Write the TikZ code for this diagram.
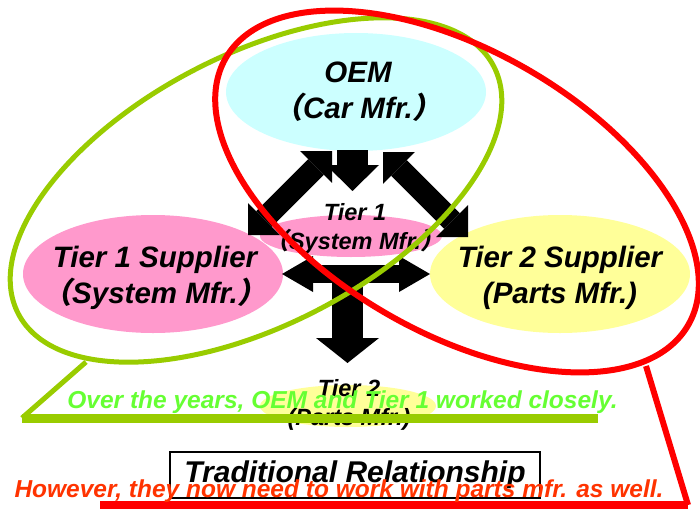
\documentclass[tikz,border=0pt]{standalone}
\usepackage{fontspec}
\setmainfont{Liberation Sans}
\newfontfamily\cjkparen[FakeSlant=0.2]{Noto Sans CJK JP}
\usetikzlibrary{shapes.geometric,arrows.meta}

\definecolor{oemfill}{HTML}{CCFFFF}
\definecolor{tieronefill}{HTML}{FF99CC}
\definecolor{tiertwofill}{HTML}{FFFF99}
\definecolor{leafgreen}{HTML}{99CC00}
\definecolor{brightred}{HTML}{FF0000}
\definecolor{notegreen}{HTML}{66FF33}
\definecolor{notered}{HTML}{FF3300}

% full-width parentheses
\newcommand{\fwlp}{{\cjkparen （}}
\newcommand{\fwrp}{{\cjkparen ）}}

\tikzset{
  party/.style={ellipse, inner sep=0pt, minimum width=260pt, minimum height=118pt},
  minorparty/.style={ellipse, inner sep=0pt, minimum width=#1, minimum height=42pt},
  bigtext/.style={align=center, inner sep=0pt, font=\fontsize{29.5}{35.5}\selectfont\bfseries\itshape},
  smalltext/.style={align=center, inner sep=0pt, font=\fontsize{23.5}{29}\selectfont\bfseries\itshape},
  notetext/.style={inner sep=0pt, font=\fontsize{24.5}{30}\selectfont\bfseries\itshape},
  diagarrow/.style={line width=22pt,
    arrows={Triangle[width=45pt,length=22.5pt,line width=0pt]-Triangle[width=45pt,length=22.5pt,line width=0pt]}},
  downarrow/.style={line width=31pt,
    arrows={-Triangle[width=53pt,length=26pt,line width=0pt]}},
  sidearrow/.style={line width=18pt,
    arrows={Triangle[width=36pt,length=31pt,line width=0pt]-Triangle[width=36pt,length=31pt,line width=0pt]}},
  tierarrow/.style={line width=31.5pt,
    arrows={-Triangle[width=63pt,length=25pt,line width=0pt]}},
  greenline/.style={draw=leafgreen, line width=5pt},
  redline/.style={draw=brightred, line width=6pt},
}

\begin{document}
\begin{tikzpicture}[x=1pt, y=-1pt]
\useasboundingbox (0,0) rectangle (700,508);

% company ellipses
\node[party, fill=oemfill] (oem) at (356,92) {};
\node[party, fill=tieronefill] (tierone) at (153,274) {};
\node[party, fill=tiertwofill] (tiertwo) at (560,274) {};
\node[minorparty=182pt, fill=tieronefill] (sysmfr) at (351,236) {};
\node[minorparty=176pt, fill=tiertwofill] (partsmfr) at (348,406) {};

% arrow end points
\coordinate (dlA) at (248,235);
\coordinate (dlB) at (332,151);
\coordinate (drA) at (383,152);
\coordinate (drB) at (468,237);
\coordinate (dcA) at (352.5,150);
\coordinate (dcB) at (352.5,191);
\coordinate (hA) at (282,274);
\coordinate (hB) at (430,274);
\coordinate (vA) at (347.5,274);
\coordinate (vB) at (347.5,363);

% block arrows
\draw[diagarrow] (dlA) -- (dlB);
\draw[diagarrow] (drA) -- (drB);
\draw[downarrow] (dcA) -- (dcB);
\draw[sidearrow] (hA) -- (hB);
\draw[tierarrow] (vA) -- (vB);

% labels (anchored on the baseline of their last line)
\node[bigtext, anchor=base] (oemlabel) at (358,118) {OEM\\\fwlp Car Mfr.\fwrp};
\node[bigtext, anchor=base] (tieronelabel) at (155,303) {Tier 1 Supplier\\\fwlp System Mfr.\fwrp};
\node[bigtext, anchor=base] (tiertwolabel) at (560,303) {Tier 2 Supplier\\(Parts Mfr.)};
\node[smalltext, anchor=base] (syslabel) at (355,249) {Tier 1\\\fwlp System Mfr.\fwrp};
\node[smalltext, anchor=base] (partslabel) at (349,425) {Tier 2\\(Parts Mfr.)};

% caption box
\node[draw=black, line width=1.5pt, minimum width=370pt, minimum height=46pt, inner sep=0pt,
      font=\fontsize{30}{36}\selectfont\bfseries\itshape] (trad) at (355,475) {Traditional Relationship};

% green callout
\draw[greenline, rotate around={27.5:(256,190)}] (256,190) ellipse [x radius=268, y radius=135];
\coordinate (gtail) at (86,362);
\coordinate (gcorner) at (22,418);
\coordinate (gend) at (598,418);
\draw[greenline] (gtail) -- (gcorner);
\draw[draw=leafgreen, line width=9pt] (gcorner) -- (gend);

% red callout
\draw[redline, rotate around={-30:(457,191.5)}] (457,191.5) ellipse [x radius=267, y radius=141];
\coordinate (rtail) at (646,366);
\coordinate (rcorner) at (688,505);
\coordinate (rend) at (100,505);
\draw[redline] (rtail) -- (rcorner);
\draw[draw=brightred, line width=8pt] (rcorner) -- (rend);

% notes
\node[notetext, text=notegreen, anchor=base] (closenote) at (342.5,408) {Over the years, OEM and Tier 1 worked closely.};
\node[notetext, text=notered, anchor=base] (partsnote) at (339,497) {However, they now need to work with parts mfr. as well.};
\end{tikzpicture}
\end{document}
